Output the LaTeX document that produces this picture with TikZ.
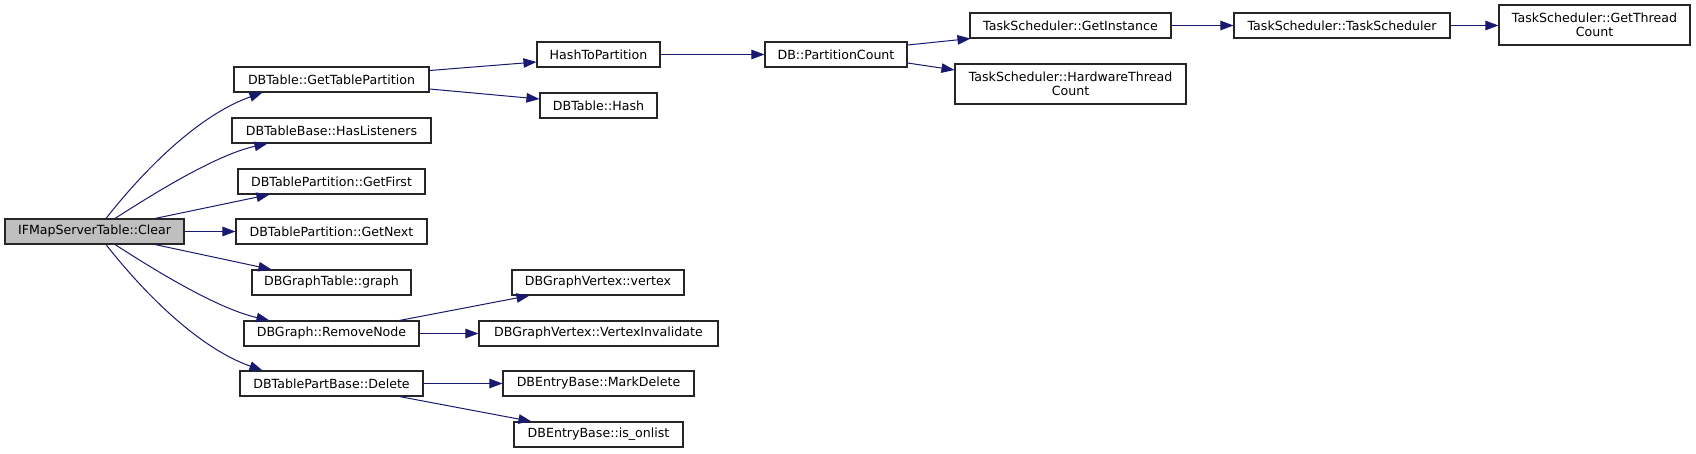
\documentclass[tikz,border=0pt]{standalone}
\usepackage{fontspec}
\setmainfont{DejaVu Sans}
\usetikzlibrary{arrows.meta}
\definecolor{edgeblue}{HTML}{191970}
\definecolor{rootgray}{HTML}{BFBFBF}
\begin{document}
\begin{tikzpicture}[x=1pt,y=-1pt,
  fn/.style={draw=black!85, line width=1.1pt, fill=white, inner sep=0pt, align=center,
    font=\fontsize{12.6}{14.5}\selectfont, text=black, minimum height=25pt},
  call/.style={draw=edgeblue, line width=1pt, -{Triangle[length=13pt,width=9.5pt]}}]
\fill[white] (0,0) rectangle (1696,453);
\useasboundingbox (0,0) rectangle (1696,453);
% nodes
\node[fn, fill=rootgray, minimum width=179pt] (root) at (94.5,231.5) {IFMapServerTable::Clear};
\node[fn, minimum width=195pt] (gtp) at (331.5,79.5) {DBTable::GetTablePartition};
\node[fn, minimum width=199pt] (hl) at (331.5,130.5) {DBTableBase::HasListeners};
\node[fn, minimum width=187pt] (gf) at (331.5,181.5) {DBTablePartition::GetFirst};
\node[fn, minimum width=191pt] (gn) at (331.5,231.5) {DBTablePartition::GetNext};
\node[fn, minimum width=159pt] (graph) at (331.5,282.5) {DBGraphTable::graph};
\node[fn, minimum width=175pt] (rn) at (331.5,333.5) {DBGraph::RemoveNode};
\node[fn, minimum width=183pt] (del) at (331.5,383.5) {DBTablePartBase::Delete};
\node[fn, minimum width=123pt] (htp) at (598.5,54.5) {HashToPartition};
\node[fn, minimum width=117pt] (hash) at (598.5,105.5) {DBTable::Hash};
\node[fn, minimum width=172pt] (vtx) at (598,282.5) {DBGraphVertex::vertex};
\node[fn, minimum width=239pt] (vi) at (598.5,333.5) {DBGraphVertex::VertexInvalidate};
\node[fn, minimum width=191pt] (md) at (598.5,383.5) {DBEntryBase::MarkDelete};
\node[fn, minimum width=169pt] (iso) at (598.5,434.5) {DBEntryBase::is\_onlist};
\node[fn, minimum width=142pt] (pc) at (836,54.5) {DB::PartitionCount};
\node[fn, minimum width=201pt] (gi) at (1070.5,25.5) {TaskScheduler::GetInstance};
\node[fn, minimum width=231pt, minimum height=40pt] (hw) at (1070.5,84) {TaskScheduler::HardwareThread\\Count};
\node[fn, minimum width=216pt] (ts) at (1342,25.5) {TaskScheduler::TaskScheduler};
\node[fn, minimum width=191pt, minimum height=40pt] (gtc) at (1594.5,25) {TaskScheduler::GetThread\\Count};
% edges from root
\draw[call] ([xshift=11.5pt]root.north) .. controls (122,198) and (185,120) .. ([xshift=29pt]gtp.south west);
\draw[call] ([xshift=20.5pt]root.north) .. controls (150,196) and (215,155) .. ([xshift=36pt]hl.south west);
\draw[call] ([xshift=60.5pt]root.north) -- ([xshift=32pt]gf.south west);
\draw[call] (root.east) -- (gn.west);
\draw[call] ([xshift=60.5pt]root.south) -- ([xshift=20pt]graph.north west);
\draw[call] ([xshift=20.5pt]root.south) .. controls (150,267) and (215,308) .. ([xshift=26pt]rn.north west);
\draw[call] ([xshift=11.5pt]root.south) .. controls (122,265) and (185,343) .. ([xshift=23pt]del.north west);
% other edges
\draw[call] ([yshift=9pt]gtp.east) -- ([yshift=-7.5pt]htp.west);
\draw[call] ([yshift=-9.5pt]gtp.east) -- ([yshift=6.5pt]hash.west);
\draw[call] (htp.east) -- (pc.west);
\draw[call] ([yshift=9.5pt]pc.east) -- ([xshift=1pt]gi.south west);
\draw[call] ([yshift=-8.5pt]pc.east) -- ([yshift=14pt]hw.west);
\draw[call] (gi.east) -- (ts.west);
\draw[call] (ts.east) -- (ts.east -| gtc.west);
\draw[call] ([xshift=156pt]rn.north west) -- ([xshift=18pt]vtx.south west);
\draw[call] (rn.east) -- (vi.west);
\draw[call] (del.east) -- (md.west);
\draw[call] ([xshift=160pt]del.south west) -- ([xshift=18pt]iso.north west);
\end{tikzpicture}
\end{document}
